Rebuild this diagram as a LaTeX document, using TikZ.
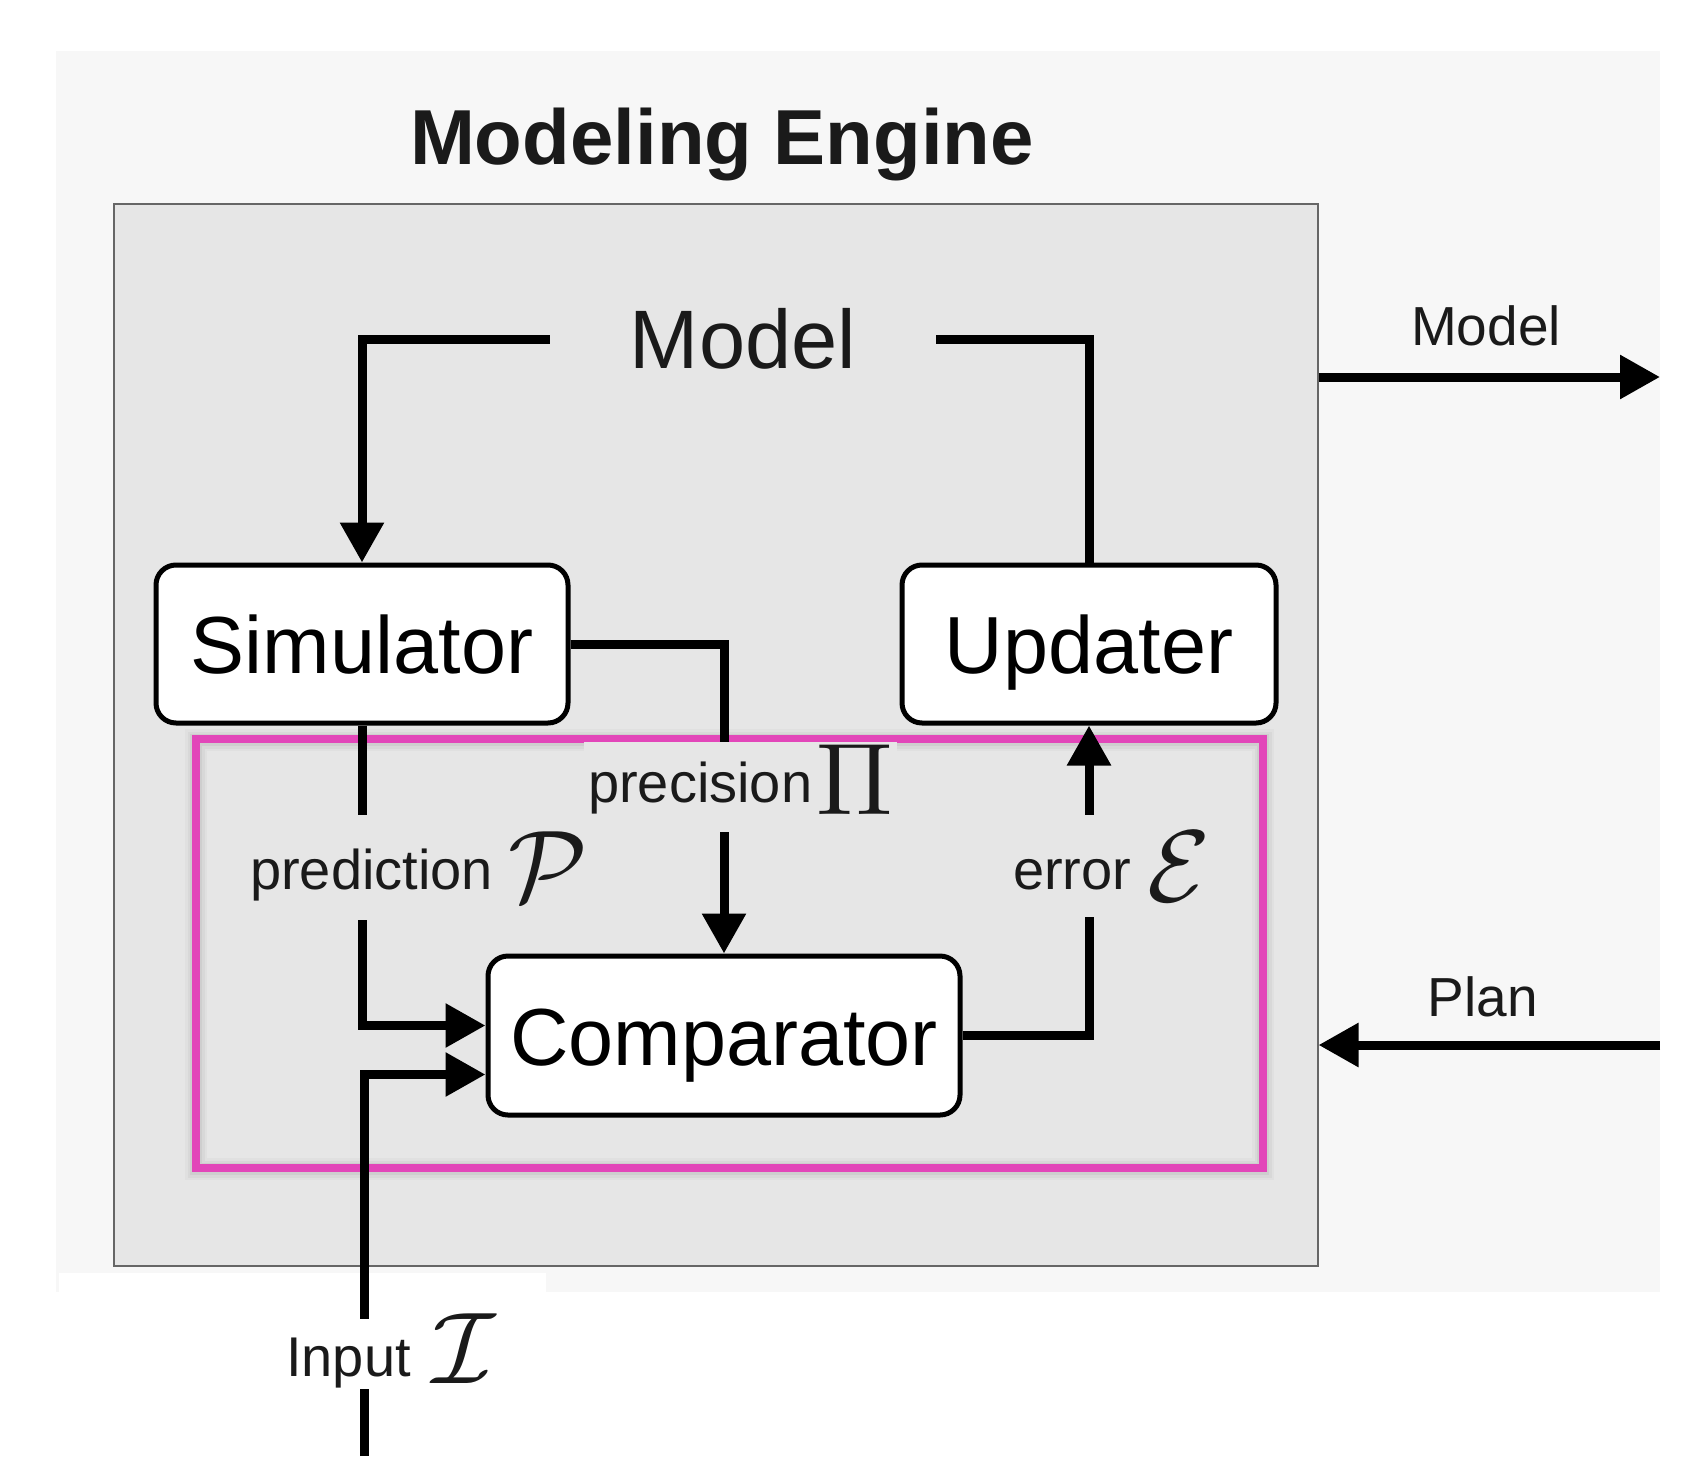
\documentclass[tikz,border=0pt]{standalone}
\usepackage[no-math]{fontspec}
\usepackage{graphicx}
\newfontfamily\sans{Liberation Sans}
\usetikzlibrary{arrows.meta,calc}
\definecolor{outerbg}{HTML}{F7F7F7}
\definecolor{boxgray}{HTML}{E6E6E6}
\definecolor{pinkc}{HTML}{E246B9}
\definecolor{txt}{HTML}{1A1A1A}
\newcommand{\msym}[2][-12pt]{\raisebox{#1}{\scalebox{10.2}{\fontsize{10}{12}\selectfont$#2$}}}
\begin{document}
\begin{tikzpicture}[x=1pt,y=-1pt,
  conn/.style={line width=9pt, draw=black},
  arr/.style={conn, -{Triangle[length=40pt,width=42pt]}},
  blk/.style={draw=black, line width=5pt, fill=white, rounded corners=20pt, inner sep=0pt,
    text height=59pt, text depth=0pt, font=\sans\fontsize{81}{97}\selectfont},
  lbl/.style={fill=boxgray, inner xsep=4pt, inner ysep=0pt, text=txt, anchor=base west,
    font=\sans\fontsize{56}{67}\selectfont},
  outlbl/.style={text=txt, font=\sans\fontsize{55}{66}\selectfont},
]
\useasboundingbox (0,0) rectangle (1688,1456);
\fill[white] (0,0) rectangle (1688,1456);
\fill[outerbg] (56,51) rectangle (1660,1292);
\fill[white] (59,1273) rectangle (546,1292);

% engine frame
\node[draw=black!60, line width=1.5pt, fill=boxgray, minimum width=1204pt, minimum height=1062pt,
  inner sep=0pt, anchor=north west] (engine) at (113,203) {};

% title
\node[font=\sans\bfseries\fontsize{78}{90}\selectfont, text=txt, anchor=base] (title) at (722,164) {Modeling Engine};

% model text
\node[font=\sans\fontsize{83}{100}\selectfont, text=txt, inner xsep=80pt, inner ysep=0pt,
  text height=59pt, text depth=0pt] (model) at (743,339) {Model};

% blocks
\node[blk, minimum width=412pt, minimum height=158pt] (sim) at (362,644) {Simulator};
\node[blk, minimum width=374pt, minimum height=158pt] (upd) at (1089,644) {Updater};
\node[blk, minimum width=472pt, minimum height=159pt] (comp) at (724,1035.5) {Comparator};

% highlight frame with soft shadow
\foreach \w/\o in {22/0.025,17/0.035,12/0.045}
  \draw[black, opacity=\o, line width=\w pt] (196,740) rectangle (1263,1169);
\node[draw=pinkc, line width=8pt, minimum width=1067pt, minimum height=429pt, inner sep=0pt,
  anchor=north west] (focus) at (192,735) {};

% connectors
\draw[arr] (model.west) -| (sim.north);
\draw[conn] (model.east) -| (upd.north);
\draw[arr] (sim.east) -| (comp.north);
\draw[arr] (sim.south) |- ($(comp.west)+(0,-10)$);
\coordinate (inbot) at (364,1456);
\draw[arr] (inbot) |- ($(comp.west)+(0,39)$);
\draw[arr] (comp.east) -| (upd.south);

% edge labels
\node[lbl, text height=74pt, text depth=31pt] (pred) at (246,889) {prediction \msym{\mathcal{P}}};
\node[lbl, text height=60pt, text depth=30pt] (prec) at (584,802) {precision\hspace{4pt}\msym{\Pi}};
\node[lbl, text height=74pt, text depth=28pt] (err) at (1009,889) {error \msym{\mathcal{E}}};
\node[lbl, fill=white, text height=57pt, text depth=13pt] (inp) at (282,1376) {Input \hspace{6pt}\msym[-7pt]{\mathcal{I}}};

% outside connectors
\coordinate (mout) at (1660,377);
\coordinate (pin) at (1660,1045);
\draw[arr] (mout -| engine.east) -- (mout);
\draw[arr] (pin) -- (pin -| engine.east);
\node[outlbl, anchor=base] (mlab) at (1486,345) {Model};
\node[outlbl, anchor=base west] (plab) at (1424,1016) {Plan};
\end{tikzpicture}
\end{document}
